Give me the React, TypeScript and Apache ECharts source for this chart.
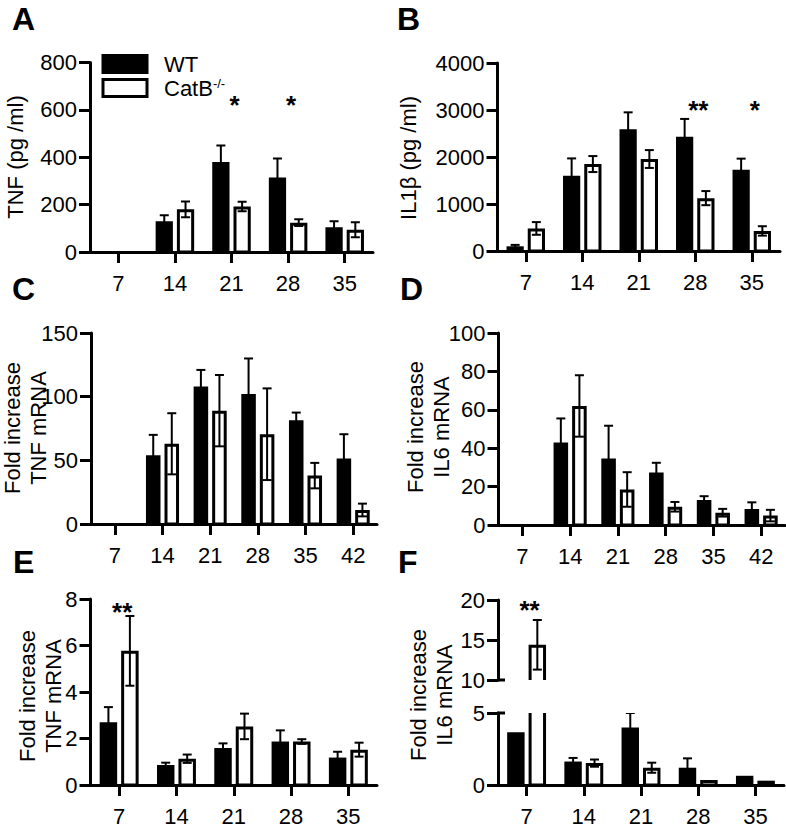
import { useEffect, useRef } from 'react';
import * as echarts from 'echarts';

const FONT = '"Liberation Sans", Arial, Helvetica, sans-serif';

// ---------- categories (days) ----------
const days5 = ['7', '14', '21', '28', '35'];
const days6 = ['7', '14', '21', '28', '35', '42'];

// ---------- A: TNF protein (pg/ml) ----------
const tnfProtWT = [null, 130, 380, 315, 105];
const tnfProtWTErr = [null, 25, 70, 80, 25];
const tnfProtKO = [null, 180, 192, 124, 94];
const tnfProtKOErr = [null, 33, 20, 14, 32];
const tnfProtSig = ['', '', '*', '*', ''];

// ---------- B: IL1β protein (pg/ml) ----------
const il1bWT = [100, 1600, 2590, 2430, 1730];
const il1bWTErr = [30, 370, 360, 380, 235];
const il1bKO = [480, 1850, 1957, 1125, 427];
const il1bKOErr = [135, 170, 190, 150, 100];
const il1bSig = ['', '', '', '**', '*'];

// ---------- C: TNF mRNA fold increase ----------
const tnfMrnaWT = [null, 54, 108, 102, 81.5, 51.5];
const tnfMrnaWTErr = [null, 16, 13, 28, 6, 19];
const tnfMrnaKO = [null, 63, 89, 70.5, 38, 11];
const tnfMrnaKOErr = [null, 24, 28, 36, 10, 5];

// ---------- D: IL6 mRNA fold increase ----------
const il6MrnaWT = [null, 43, 34.7, 27.4, 13, 8.3];
const il6MrnaWTErr = [null, 12.5, 17, 5, 2, 3.5];
const il6MrnaKO = [null, 62, 18.5, 9.5, 6.4, 4.9];
const il6MrnaKOErr = [null, 16, 9, 2.5, 2, 3];

// ---------- E: TNF mRNA fold increase ----------
const tnfMrnaEWT = [2.7, 0.86, 1.59, 1.87, 1.18];
const tnfMrnaEWTErr = [0.65, 0.1, 0.2, 0.48, 0.25];
const tnfMrnaEKO = [5.77, 1.13, 2.52, 1.87, 1.52];
const tnfMrnaEKOErr = [1.5, 0.18, 0.55, 0.1, 0.3];
const tnfMrnaESig = ['**', '', '', '', ''];

// ---------- F: IL6 mRNA fold increase (broken axis) ----------
const il6MrnaFWT = [3.67, 1.63, 4.0, 1.2, 0.64];
const il6MrnaFWTErr = [0, 0.25, 1.0, 0.65, 0];
const il6MrnaFKO = [14.4, 1.52, 1.2, 0.34, 0.3];
const il6MrnaFKOErr = [3.1, 0.25, 0.35, 0, 0];
const il6MrnaFSig = ['**', '', '', '', ''];

type Arr = (number | null)[];
interface PanelCfg {
  grid: { left: number; top: number; width: number; height: number };
  cats: string[];
  wt: Arr; wtErr: Arr; ko: Arr; koErr: Arr;
  sig?: string[];
  starAt?: number;
  min: number; max: number; step: number;
  hideX?: boolean;
}

const panels: PanelCfg[] = [
  { grid: { left: 90, top: 62.5, width: 283, height: 189.5 }, cats: days5, wt: tnfProtWT, wtErr: tnfProtWTErr, ko: tnfProtKO, koErr: tnfProtKOErr, sig: tnfProtSig, starAt: 620, min: 0, max: 800, step: 200 },
  { grid: { left: 497.5, top: 63, width: 282.5, height: 188 }, cats: days5, wt: il1bWT, wtErr: il1bWTErr, ko: il1bKO, koErr: il1bKOErr, sig: il1bSig, starAt: 3000, min: 0, max: 4000, step: 1000 },
  { grid: { left: 91, top: 333, width: 286, height: 191 }, cats: days6, wt: tnfMrnaWT, wtErr: tnfMrnaWTErr, ko: tnfMrnaKO, koErr: tnfMrnaKOErr, min: 0, max: 150, step: 50 },
  { grid: { left: 498.5, top: 333, width: 286.5, height: 192 }, cats: days6, wt: il6MrnaWT, wtErr: il6MrnaWTErr, ko: il6MrnaKO, koErr: il6MrnaKOErr, min: 0, max: 100, step: 20 },
  { grid: { left: 90.5, top: 599, width: 286.5, height: 193 }, cats: days5, wt: tnfMrnaEWT, wtErr: tnfMrnaEWTErr, ko: tnfMrnaEKO, koErr: tnfMrnaEKOErr, sig: tnfMrnaESig, starAt: 7.45, min: 0, max: 8, step: 2 },
  { grid: { left: 498, top: 713, width: 286, height: 78 }, cats: days5, wt: il6MrnaFWT, wtErr: il6MrnaFWTErr, ko: il6MrnaFKO, koErr: il6MrnaFKOErr, min: 0, max: 5, step: 5 },
  { grid: { left: 498, top: 600, width: 286, height: 80 }, cats: days5, wt: il6MrnaFWT, wtErr: il6MrnaFWTErr, ko: il6MrnaFKO, koErr: il6MrnaFKOErr, sig: il6MrnaFSig, starAt: 18.75, min: 10, max: 20, step: 5, hideX: true },
];

function barSeries(name: string, isKO: boolean, vals: Arr, errs: Arr, idx: number) {
  return {
    type: 'custom',
    name,
    xAxisIndex: idx,
    yAxisIndex: idx,
    clip: true,
    encode: { x: 0, y: 1 },
    data: vals.map((v, i) => [i, v == null ? '-' : v, errs[i] == null ? 0 : errs[i]]),
    renderItem: (_params: any, api: any) => {
      const v = api.value(1);
      if (v == null || isNaN(v)) return null;
      const i = api.value(0);
      const e = api.value(2);
      const top = api.coord([i, v]);
      const base = api.coord([i, 0]);
      const band = api.size([1, 0])[0];
      const bw = band * 0.305;
      const gap = 2;
      const x0 = isKO ? top[0] + gap : top[0] - gap - bw;
      const children: any[] = [];
      if (isKO) {
        children.push({
          type: 'rect',
          shape: { x: x0 + 1.5, y: top[1] + 1.5, width: bw - 3, height: base[1] - top[1] - 1.5 },
          style: { fill: '#fff', stroke: '#000', lineWidth: 3 },
        });
      } else {
        children.push({
          type: 'rect',
          shape: { x: x0, y: top[1], width: bw, height: base[1] - top[1] },
          style: { fill: '#000' },
        });
      }
      if (e > 0) {
        const cx = x0 + bw / 2;
        const hi = api.coord([i, v + e])[1];
        const lo = api.coord([i, v - e])[1];
        const es = { stroke: '#000', lineWidth: 2 };
        children.push({ type: 'line', shape: { x1: cx, y1: hi, x2: cx, y2: lo }, style: es });
        children.push({ type: 'line', shape: { x1: cx - 4.5, y1: hi, x2: cx + 4.5, y2: hi }, style: es });
        children.push({ type: 'line', shape: { x1: cx - 4.5, y1: lo, x2: cx + 4.5, y2: lo }, style: es });
      }
      return { type: 'group', children };
    },
  };
}

function starSeries(sig: string[], at: number, idx: number) {
  return {
    type: 'custom',
    xAxisIndex: idx,
    yAxisIndex: idx,
    clip: false,
    encode: { x: 0, y: 1 },
    data: sig.map((s, i) => [i, s ? at : '-']),
    renderItem: (params: any, api: any) => {
      const y = api.value(1);
      if (y == null || isNaN(y)) return null;
      const p = api.coord([api.value(0), y]);
      return {
        type: 'text',
        x: p[0] + 3,
        y: p[1],
        style: {
          text: sig[params.dataIndex],
          fill: '#000',
          fontSize: 26,
          fontWeight: 'bold',
          fontFamily: FONT,
          textAlign: 'center',
          textVerticalAlign: 'middle',
        },
      };
    },
  };
}

function buildOption() {
  const grids: any[] = [];
  const xAxes: any[] = [];
  const yAxes: any[] = [];
  const series: any[] = [];
  panels.forEach((p, k) => {
    grids.push({ ...p.grid, containLabel: false });
    xAxes.push({
      type: 'category',
      gridIndex: k,
      data: p.cats,
      show: !p.hideX,
      axisLine: { show: true, lineStyle: { color: '#000', width: 3 } },
      axisTick: { show: true, alignWithLabel: true, length: 11, lineStyle: { color: '#000', width: 3 } },
      axisLabel: { color: '#000', fontSize: 22, fontFamily: FONT, margin: 20, interval: 0 },
      splitLine: { show: false },
    });
    yAxes.push({
      type: 'value',
      gridIndex: k,
      min: p.min,
      max: p.max,
      interval: p.step,
      axisLine: { show: true, lineStyle: { color: '#000', width: 3 } },
      axisTick: { show: true, length: 11, lineStyle: { color: '#000', width: 3 } },
      axisLabel: { color: '#000', fontSize: 22, fontFamily: FONT, margin: 13, formatter: (v: number) => String(v) },
      splitLine: { show: false },
    });
    series.push(barSeries('WT', false, p.wt, p.wtErr, k));
    series.push(barSeries('CatB-/-', true, p.ko, p.koErr, k));
    if (p.sig && p.starAt != null) series.push(starSeries(p.sig, p.starAt, k));
  });

  const letter = (t: string, left: number, top: number) => ({
    type: 'text', left, top,
    style: { text: t, fill: '#000', fontSize: 32, fontWeight: 'bold', fontFamily: FONT },
  });
  const ytitle = (t: string, x: number, y: number) => ({
    type: 'text', x, y, rotation: Math.PI / 2,
    style: {
      text: t, fill: '#000', fontSize: 22, fontFamily: FONT, lineHeight: 26,
      textAlign: 'center', textVerticalAlign: 'middle',
    },
  });

  return {
    animation: false,
    backgroundColor: '#fff',
    grid: grids,
    xAxis: xAxes,
    yAxis: yAxes,
    series,
    legend: {
      left: 101.5,
      top: 53,
      padding: 0,
      orient: 'vertical',
      icon: 'rect',
      itemWidth: 44,
      itemHeight: 17,
      itemGap: 2,
      selectedMode: false,
      data: [
        { name: 'WT', itemStyle: { color: '#000', borderColor: '#000', borderWidth: 3 } },
        { name: 'CatB-/-', itemStyle: { color: '#fff', borderColor: '#000', borderWidth: 3 } },
      ],
      formatter: (n: string) => (n === 'WT' ? '{n|WT}' : '{n|CatB}{s|-/-}'),
      textStyle: {
        color: '#000',
        fontSize: 22,
        fontFamily: FONT,
        padding: [0, 0, 0, 12],
        rich: {
          n: { fontSize: 22, fontFamily: FONT, color: '#000', lineHeight: 22 },
          s: { fontSize: 13, fontFamily: FONT, color: '#000', verticalAlign: 'top', lineHeight: 22 },
        },
      },
    },
    graphic: [
      letter('A', 12, 3),
      letter('B', 397, 3),
      letter('C', 12, 273),
      letter('D', 400, 273),
      letter('E', 13, 546),
      letter('F', 398, 546),
      ytitle('TNF (pg /ml)', 15, 157),
      ytitle('IL1β (pg /ml)', 408, 158),
      ytitle('Fold increase\nTNF mRNA', 25, 428),
      ytitle('Fold increase\nIL6 mRNA', 428, 427),
      ytitle('Fold increase\nTNF mRNA', 40, 696),
      ytitle('Fold increase\nIL6 mRNA', 431, 695),
      { type: 'line', shape: { x1: 497, y1: 680, x2: 505, y2: 680 }, style: { stroke: '#000', lineWidth: 3 } },
      { type: 'line', shape: { x1: 497, y1: 713, x2: 505, y2: 713 }, style: { stroke: '#000', lineWidth: 3 } },
    ],
  };
}

export default function App() {
  const ref = useRef<HTMLDivElement>(null);
  useEffect(() => {
    document.body.style.margin = '0';
    const chart = echarts.init(ref.current!, null, { renderer: 'svg' });
    chart.setOption(buildOption() as any);
    return () => chart.dispose();
  }, []);
  return <div ref={ref} style={{ width: 786, height: 827, background: '#fff' }} />;
}
